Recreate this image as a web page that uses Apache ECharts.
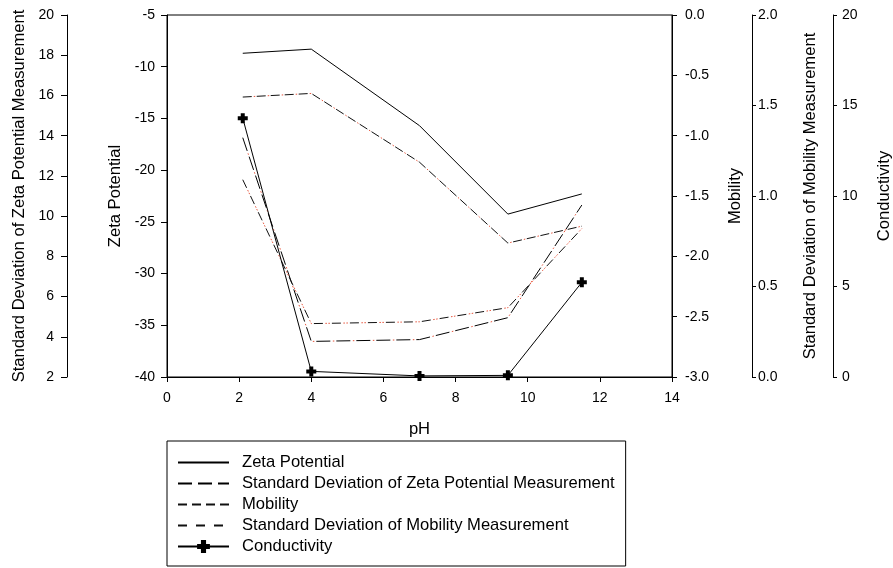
<!DOCTYPE html>
<html><head><meta charset="utf-8">
<script src="https://cdn.jsdelivr.net/npm/echarts@6/dist/echarts.min.js"></script>
<style>html,body{margin:0;padding:0;background:#fff}#c{width:893px;height:568px}</style>
</head><body><div id="c"></div>
<script>
// ---- data ----
const pH = [2.1, 4.0, 7.0, 9.45, 11.5];
const zetaPotential = [-8.7, -8.3, -15.7, -24.25, -22.3];
const stdDevZeta = [13.9, 3.77, 3.86, 4.95, 10.55];
const mobility = [-0.68, -0.65, -1.22, -1.89, -1.75];
const stdDevMobility = [1.09, 0.295, 0.305, 0.383, 0.82];
const conductivity = [14.3, 0.31, 0.06, 0.09, 5.23];
const seriesNames = ['Zeta Potential', 'Standard Deviation of Zeta Potential Measurement', 'Mobility', 'Standard Deviation of Mobility Measurement', 'Conductivity'];
const axisTitles = ['Zeta Potential', 'Standard Deviation of Zeta Potential Measurement', 'Mobility', 'Standard Deviation of Mobility Measurement', 'Conductivity'];
const xTitle = 'pH';

const FONT = 'Liberation Sans, Arial, sans-serif';
const TFS = 16.6;
const pairs = ys => pH.map((x, i) => [x, ys[i]]);
const MARK = 'path://M3,0H7V3H10V7H7V10H3V7H0V3H3Z';

function yAx(pos, offset, min, max, interval, name, nameGap, labelMargin, dec, tickLen) {
  return {
    type: 'value', position: pos, offset: offset, min: min, max: max, interval: interval,
    name: name, nameLocation: 'middle', nameGap: nameGap, nameRotate: 90,
    nameTextStyle: { fontFamily: FONT, fontSize: TFS, color: '#000' },
    axisLine: { show: true, onZero: false, lineStyle: { color: '#000', width: 1 } },
    axisTick: { show: true, inside: false, length: tickLen, lineStyle: { color: '#000' } },
    axisLabel: { show: true, margin: labelMargin, fontFamily: FONT, fontSize: 14, color: '#000',
      formatter: v => v.toFixed(dec) },
    splitLine: { show: false }
  };
}

const chart = echarts.init(document.getElementById('c'), null, { renderer: 'canvas' });
const RED = '#e8553c';
const hideSym = { opacity: 0 };
chart.setOption({
  animation: false,
  backgroundColor: '#fff',
  grid: { left: 167, right: 221, top: 15, bottom: 191, show: true, borderColor: '#000', borderWidth: 1,
    backgroundColor: 'transparent', containLabel: false, outerBoundsMode: 'none' },
  xAxis: {
    type: 'value', min: 0, max: 14, interval: 2, position: 'bottom',
    name: xTitle, nameLocation: 'middle', nameGap: 44,
    nameTextStyle: { fontFamily: FONT, fontSize: TFS, color: '#000' },
    axisLine: { show: true, onZero: false, lineStyle: { color: '#000' } },
    axisTick: { show: true, inside: false, length: 5, lineStyle: { color: '#000' } },
    axisLabel: { margin: 14, fontFamily: FONT, fontSize: 14, color: '#000' },
    splitLine: { show: false }
  },
  yAxis: [
    yAx('left', 0, -40, -5, 5, axisTitles[0], 42, 12, 0, 6),
    yAx('left', 100, 2, 20, 2, axisTitles[1], 39, 13, 0, 6),
    yAx('right', 0, -3, 0, 0.5, axisTitles[2], 55, 13, 1, 5),
    yAx('right', 80, 0, 2, 0.5, axisTitles[3], 50, 6, 1, 4),
    yAx('right', 161, 0, 20, 5, axisTitles[4], 43, 9, 0, 4)
  ],
  legend: {
    data: [
      { name: seriesNames[0], itemStyle: hideSym },
      { name: seriesNames[1], itemStyle: hideSym },
      { name: seriesNames[2], itemStyle: hideSym },
      { name: seriesNames[3], itemStyle: hideSym },
      { name: seriesNames[4] }
    ],
    orient: 'vertical', left: 167, top: 441, height: 112,
    padding: [13, 11, 11, 10], itemGap: 4, itemWidth: 51, itemHeight: 16,
    borderColor: '#000', borderWidth: 1, borderRadius: 0, backgroundColor: '#fff',
    textStyle: { fontFamily: FONT, fontSize: TFS, lineHeight: 16, color: '#000', padding: [0, 0, 0, 8] }
  },
  series: [
    { name: seriesNames[0], type: 'line', yAxisIndex: 0, data: pairs(zetaPotential), symbol: 'none',
      lineStyle: { color: '#000', width: 1, type: 'solid' }, itemStyle: { color: '#000' } },
    { name: seriesNames[1], type: 'line', yAxisIndex: 1, data: pairs(stdDevZeta), symbol: 'none',
      lineStyle: { color: '#000', width: 1, type: [14, 6] }, itemStyle: { color: '#000' } },
    { name: '_d1', type: 'line', yAxisIndex: 1, data: pairs(stdDevZeta), symbol: 'none', silent: true,
      lineStyle: { color: RED, width: 1, type: [1.5, 18.5], dashOffset: 3.5 } },
    { name: seriesNames[2], type: 'line', yAxisIndex: 2, data: pairs(mobility), symbol: 'none',
      lineStyle: { color: '#111', width: 1, type: [9, 5] }, itemStyle: { color: '#111' } },
    { name: '_d2', type: 'line', yAxisIndex: 2, data: pairs(mobility), symbol: 'none', silent: true,
      lineStyle: { color: RED, width: 1, type: [1.5, 12.5], dashOffset: 3 } },
    { name: seriesNames[3], type: 'line', yAxisIndex: 3, data: pairs(stdDevMobility), symbol: 'none',
      lineStyle: { color: '#111', width: 1, type: [9, 9] }, itemStyle: { color: '#111' } },
    { name: '_d3', type: 'line', yAxisIndex: 3, data: pairs(stdDevMobility), symbol: 'none', silent: true,
      lineStyle: { color: RED, width: 1, type: [1.5, 1.5, 1.5, 13.5], dashOffset: 6.5 } },
    { name: seriesNames[4], type: 'line', yAxisIndex: 4, data: pairs(conductivity),
      symbol: MARK, symbolSize: 10, showSymbol: true, z: 5,
      lineStyle: { color: '#000', width: 1 }, itemStyle: { color: '#000' } }
  ]
});
</script></body></html>
